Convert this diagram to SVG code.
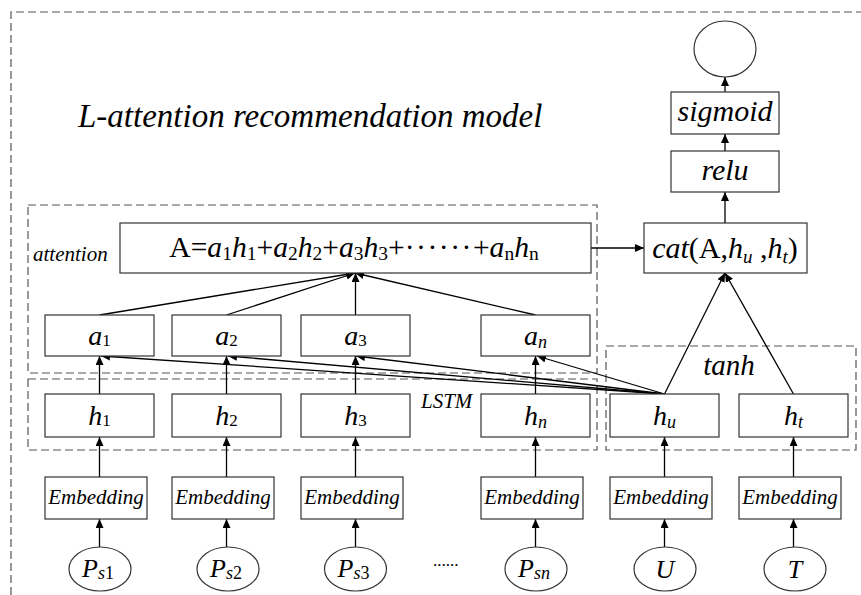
<svg xmlns="http://www.w3.org/2000/svg" width="861" height="595" viewBox="0 0 861 595" font-family="'Liberation Serif', serif">
<style>
.box{fill:#fff;stroke:#333;stroke-width:1.2}
.dash{fill:none;stroke:#555;stroke-width:1.2;stroke-dasharray:8 4}
.ln{fill:none;stroke:#000;stroke-width:1.3;marker-end:url(#ah)}
.f28{font-size:28px}
.f30{font-size:30px}
.f21{font-size:21px}
.f26{font-size:26px}
</style>
<defs>
<marker id="ah" markerUnits="userSpaceOnUse" markerWidth="10" markerHeight="8" refX="9" refY="4" orient="auto">
<path d="M0,0 L9,4 L0,8 z" fill="#000"/>
</marker>
</defs>
<rect width="861" height="595" fill="#fff"/>
<g id="frame">
<path class="dash" d="M11,595 V12 H861"/>
<rect class="dash" x="28" y="205" width="569" height="168"/>
<rect class="dash" x="28" y="379" width="569" height="71"/>
<rect class="dash" x="606" y="346" width="250" height="104"/>
</g>
<text id="title" font-family="'Liberation Serif', serif" font-style="italic" x="78" y="127" font-size="33">L-attention recommendation model</text>
<text id="lbl-attention" font-family="'Liberation Serif', serif" font-style="italic" class="f21" x="33" y="261">attention</text>
<text id="lbl-lstm" font-family="'Liberation Serif', serif" font-style="italic" class="f21" x="421" y="408">LSTM</text>
<text id="lbl-tanh" font-family="'Liberation Serif', serif" font-style="italic" x="729" y="375" font-size="29" text-anchor="middle">tanh</text>

<g id="connectors">
<line class="ln" x1="725" y1="92" x2="725" y2="77"/>
<line class="ln" x1="725" y1="151" x2="725" y2="134"/>
<line class="ln" x1="725" y1="223" x2="725" y2="192"/>
<line class="ln" x1="591" y1="248" x2="644" y2="248"/>
<line class="ln" x1="99.5" y1="315" x2="355" y2="273"/>
<line class="ln" x1="226.5" y1="315" x2="355" y2="273"/>
<line class="ln" x1="355.5" y1="315" x2="355.5" y2="273"/>
<line class="ln" x1="535.5" y1="315" x2="355" y2="273"/>
<line class="ln" x1="664.5" y1="394" x2="725" y2="273"/>
<line class="ln" x1="793.5" y1="394" x2="725" y2="273"/>
<line class="ln" x1="664.5" y1="394" x2="101" y2="356"/>
<line class="ln" x1="664.5" y1="394" x2="228" y2="356"/>
<line class="ln" x1="664.5" y1="394" x2="356" y2="356"/>
<line class="ln" x1="664.5" y1="394" x2="537" y2="356"/>
<line class="ln" x1="99.5" y1="394" x2="99.5" y2="356"/>
<line class="ln" x1="226.5" y1="394" x2="226.5" y2="356"/>
<line class="ln" x1="355.5" y1="394" x2="355.5" y2="356"/>
<line class="ln" x1="535.5" y1="394" x2="535.5" y2="356"/>
<line class="ln" x1="99.5" y1="477" x2="99.5" y2="437"/>
<line class="ln" x1="226.5" y1="477" x2="226.5" y2="437"/>
<line class="ln" x1="355.5" y1="477" x2="355.5" y2="437"/>
<line class="ln" x1="535.5" y1="477" x2="535.5" y2="437"/>
<line class="ln" x1="664.5" y1="477" x2="664.5" y2="437"/>
<line class="ln" x1="793.5" y1="477" x2="793.5" y2="437"/>
<line class="ln" x1="99.5" y1="547" x2="99.5" y2="519"/>
<line class="ln" x1="226.5" y1="547" x2="226.5" y2="519"/>
<line class="ln" x1="355.5" y1="547" x2="355.5" y2="519"/>
<line class="ln" x1="535.5" y1="547" x2="535.5" y2="519"/>
<line class="ln" x1="664.5" y1="547" x2="664.5" y2="519"/>
<line class="ln" x1="793.5" y1="547" x2="793.5" y2="519"/>
</g>

<g id="out"><ellipse class="box" cx="725" cy="49" rx="31" ry="28"/></g>
<g id="sigmoid"><rect class="box" x="671" y="92" width="108" height="42"/><text font-family="'Liberation Serif', serif" font-style="italic" class="f30" x="725" y="121" text-anchor="middle">sigmoid</text></g>
<g id="relu"><rect class="box" x="671" y="151" width="108" height="41"/><text font-family="'Liberation Serif', serif" font-style="italic" class="f30" x="725" y="180" text-anchor="middle">relu</text></g>
<g id="cat"><rect class="box" x="644" y="223" width="163" height="50"/><text font-family="'Liberation Serif', serif" class="f30" x="725" y="258" text-anchor="middle"><tspan font-style="italic">cat</tspan>(A,<tspan font-style="italic">h</tspan><tspan font-style="italic" font-size="19" dy="5">u</tspan><tspan dy="-5"> ,</tspan><tspan font-style="italic">h</tspan><tspan font-style="italic" font-size="19" dy="5">t</tspan><tspan dy="-5">)</tspan></text></g>
<g id="formula"><rect class="box" x="120" y="223" width="471" height="50"/><text font-family="'Liberation Serif', serif" x="354" y="257" font-size="29.6" text-anchor="middle">A=<tspan font-style="italic">a</tspan><tspan font-size="19.5" dy="3">1</tspan><tspan font-style="italic" dy="-3">h</tspan><tspan font-size="19.5" dy="3">1</tspan><tspan dy="-3">+</tspan><tspan font-style="italic">a</tspan><tspan font-size="19.5" dy="3">2</tspan><tspan font-style="italic" dy="-3">h</tspan><tspan font-size="19.5" dy="3">2</tspan><tspan dy="-3">+</tspan><tspan font-style="italic">a</tspan><tspan font-size="19.5" dy="3">3</tspan><tspan font-style="italic" dy="-3">h</tspan><tspan font-size="19.5" dy="3">3</tspan><tspan dy="-3">+</tspan><tspan letter-spacing="1.5">······</tspan>+<tspan font-style="italic">a</tspan><tspan font-size="19.5" dy="3">n</tspan><tspan font-style="italic" dy="-3">h</tspan><tspan font-size="19.5" dy="3">n</tspan></text></g>

<g id="a1"><rect class="box" x="45" y="315" width="109" height="41"/><text font-family="'Liberation Serif', serif" class="f28" x="99.5" y="345" text-anchor="middle"><tspan font-style="italic">a</tspan><tspan font-size="17" dy="1">1</tspan></text></g>
<g id="a2"><rect class="box" x="172" y="315" width="109" height="41"/><text font-family="'Liberation Serif', serif" class="f28" x="226.5" y="345" text-anchor="middle"><tspan font-style="italic">a</tspan><tspan font-size="17" dy="1">2</tspan></text></g>
<g id="a3"><rect class="box" x="301" y="315" width="109" height="41"/><text font-family="'Liberation Serif', serif" class="f28" x="355.5" y="345" text-anchor="middle"><tspan font-style="italic">a</tspan><tspan font-size="17" dy="1">3</tspan></text></g>
<g id="an"><rect class="box" x="481" y="315" width="109" height="41"/><text font-family="'Liberation Serif', serif" font-style="italic" class="f28" x="535.5" y="345" text-anchor="middle">a<tspan font-size="18" dy="3">n</tspan></text></g>

<g id="h1"><rect class="box" x="45" y="394" width="109" height="43"/><text font-family="'Liberation Serif', serif" class="f28" x="99.5" y="425" text-anchor="middle"><tspan font-style="italic">h</tspan><tspan font-size="17" dy="1">1</tspan></text></g>
<g id="h2"><rect class="box" x="172" y="394" width="109" height="43"/><text font-family="'Liberation Serif', serif" class="f28" x="226.5" y="425" text-anchor="middle"><tspan font-style="italic">h</tspan><tspan font-size="17" dy="1">2</tspan></text></g>
<g id="h3"><rect class="box" x="301" y="394" width="109" height="43"/><text font-family="'Liberation Serif', serif" class="f28" x="355.5" y="425" text-anchor="middle"><tspan font-style="italic">h</tspan><tspan font-size="17" dy="1">3</tspan></text></g>
<g id="hn"><rect class="box" x="481" y="394" width="109" height="43"/><text font-family="'Liberation Serif', serif" font-style="italic" class="f28" x="535.5" y="425" text-anchor="middle">h<tspan font-size="18" dy="3">n</tspan></text></g>
<g id="hu"><rect class="box" x="610" y="394" width="109" height="43"/><text font-family="'Liberation Serif', serif" font-style="italic" class="f28" x="664.5" y="425" text-anchor="middle">h<tspan font-size="18" dy="3">u</tspan></text></g>
<g id="ht"><rect class="box" x="739" y="394" width="109" height="43"/><text font-family="'Liberation Serif', serif" font-style="italic" class="f28" x="793.5" y="425" text-anchor="middle">h<tspan font-size="18" dy="3">t</tspan></text></g>

<g id="e1"><rect class="box" x="45" y="477" width="102" height="42"/><text font-family="'Liberation Serif', serif" font-style="italic" class="f21" x="96" y="504" text-anchor="middle">Embedding</text></g>
<g id="e2"><rect class="box" x="172" y="477" width="102" height="42"/><text font-family="'Liberation Serif', serif" font-style="italic" class="f21" x="223" y="504" text-anchor="middle">Embedding</text></g>
<g id="e3"><rect class="box" x="301" y="477" width="102" height="42"/><text font-family="'Liberation Serif', serif" font-style="italic" class="f21" x="352" y="504" text-anchor="middle">Embedding</text></g>
<g id="en"><rect class="box" x="481" y="477" width="102" height="42"/><text font-family="'Liberation Serif', serif" font-style="italic" class="f21" x="532" y="504" text-anchor="middle">Embedding</text></g>
<g id="eu"><rect class="box" x="610" y="477" width="102" height="42"/><text font-family="'Liberation Serif', serif" font-style="italic" class="f21" x="661" y="504" text-anchor="middle">Embedding</text></g>
<g id="et"><rect class="box" x="739" y="477" width="102" height="42"/><text font-family="'Liberation Serif', serif" font-style="italic" class="f21" x="790" y="504" text-anchor="middle">Embedding</text></g>

<g id="ps1"><ellipse class="box" cx="100" cy="569" rx="31" ry="22"/><text font-family="'Liberation Serif', serif" class="f26" x="98" y="577" text-anchor="middle"><tspan font-style="italic">P</tspan><tspan font-style="italic" font-size="18" dy="2">s</tspan><tspan font-size="18">1</tspan></text></g>
<g id="ps2"><ellipse class="box" cx="228" cy="569" rx="31" ry="22"/><text font-family="'Liberation Serif', serif" class="f26" x="226" y="577" text-anchor="middle"><tspan font-style="italic">P</tspan><tspan font-style="italic" font-size="18" dy="2">s</tspan><tspan font-size="18">2</tspan></text></g>
<g id="ps3"><ellipse class="box" cx="355.5" cy="569" rx="31" ry="22"/><text font-family="'Liberation Serif', serif" class="f26" x="353.5" y="577" text-anchor="middle"><tspan font-style="italic">P</tspan><tspan font-style="italic" font-size="18" dy="2">s</tspan><tspan font-size="18">3</tspan></text></g>
<text id="dots" font-family="'Liberation Serif', serif" x="433" y="566" font-size="17">......</text>
<g id="psn"><ellipse class="box" cx="536" cy="569" rx="31" ry="22"/><text font-family="'Liberation Serif', serif" font-style="italic" class="f26" x="534" y="577" text-anchor="middle">P<tspan font-size="18" dy="2">sn</tspan></text></g>
<g id="u"><ellipse class="box" cx="665" cy="569" rx="31" ry="22"/><text font-family="'Liberation Serif', serif" font-style="italic" class="f26" x="665" y="578" text-anchor="middle">U</text></g>
<g id="t"><ellipse class="box" cx="795" cy="569" rx="31" ry="22"/><text font-family="'Liberation Serif', serif" font-style="italic" class="f26" x="795" y="578" text-anchor="middle">T</text></g>
</svg>
